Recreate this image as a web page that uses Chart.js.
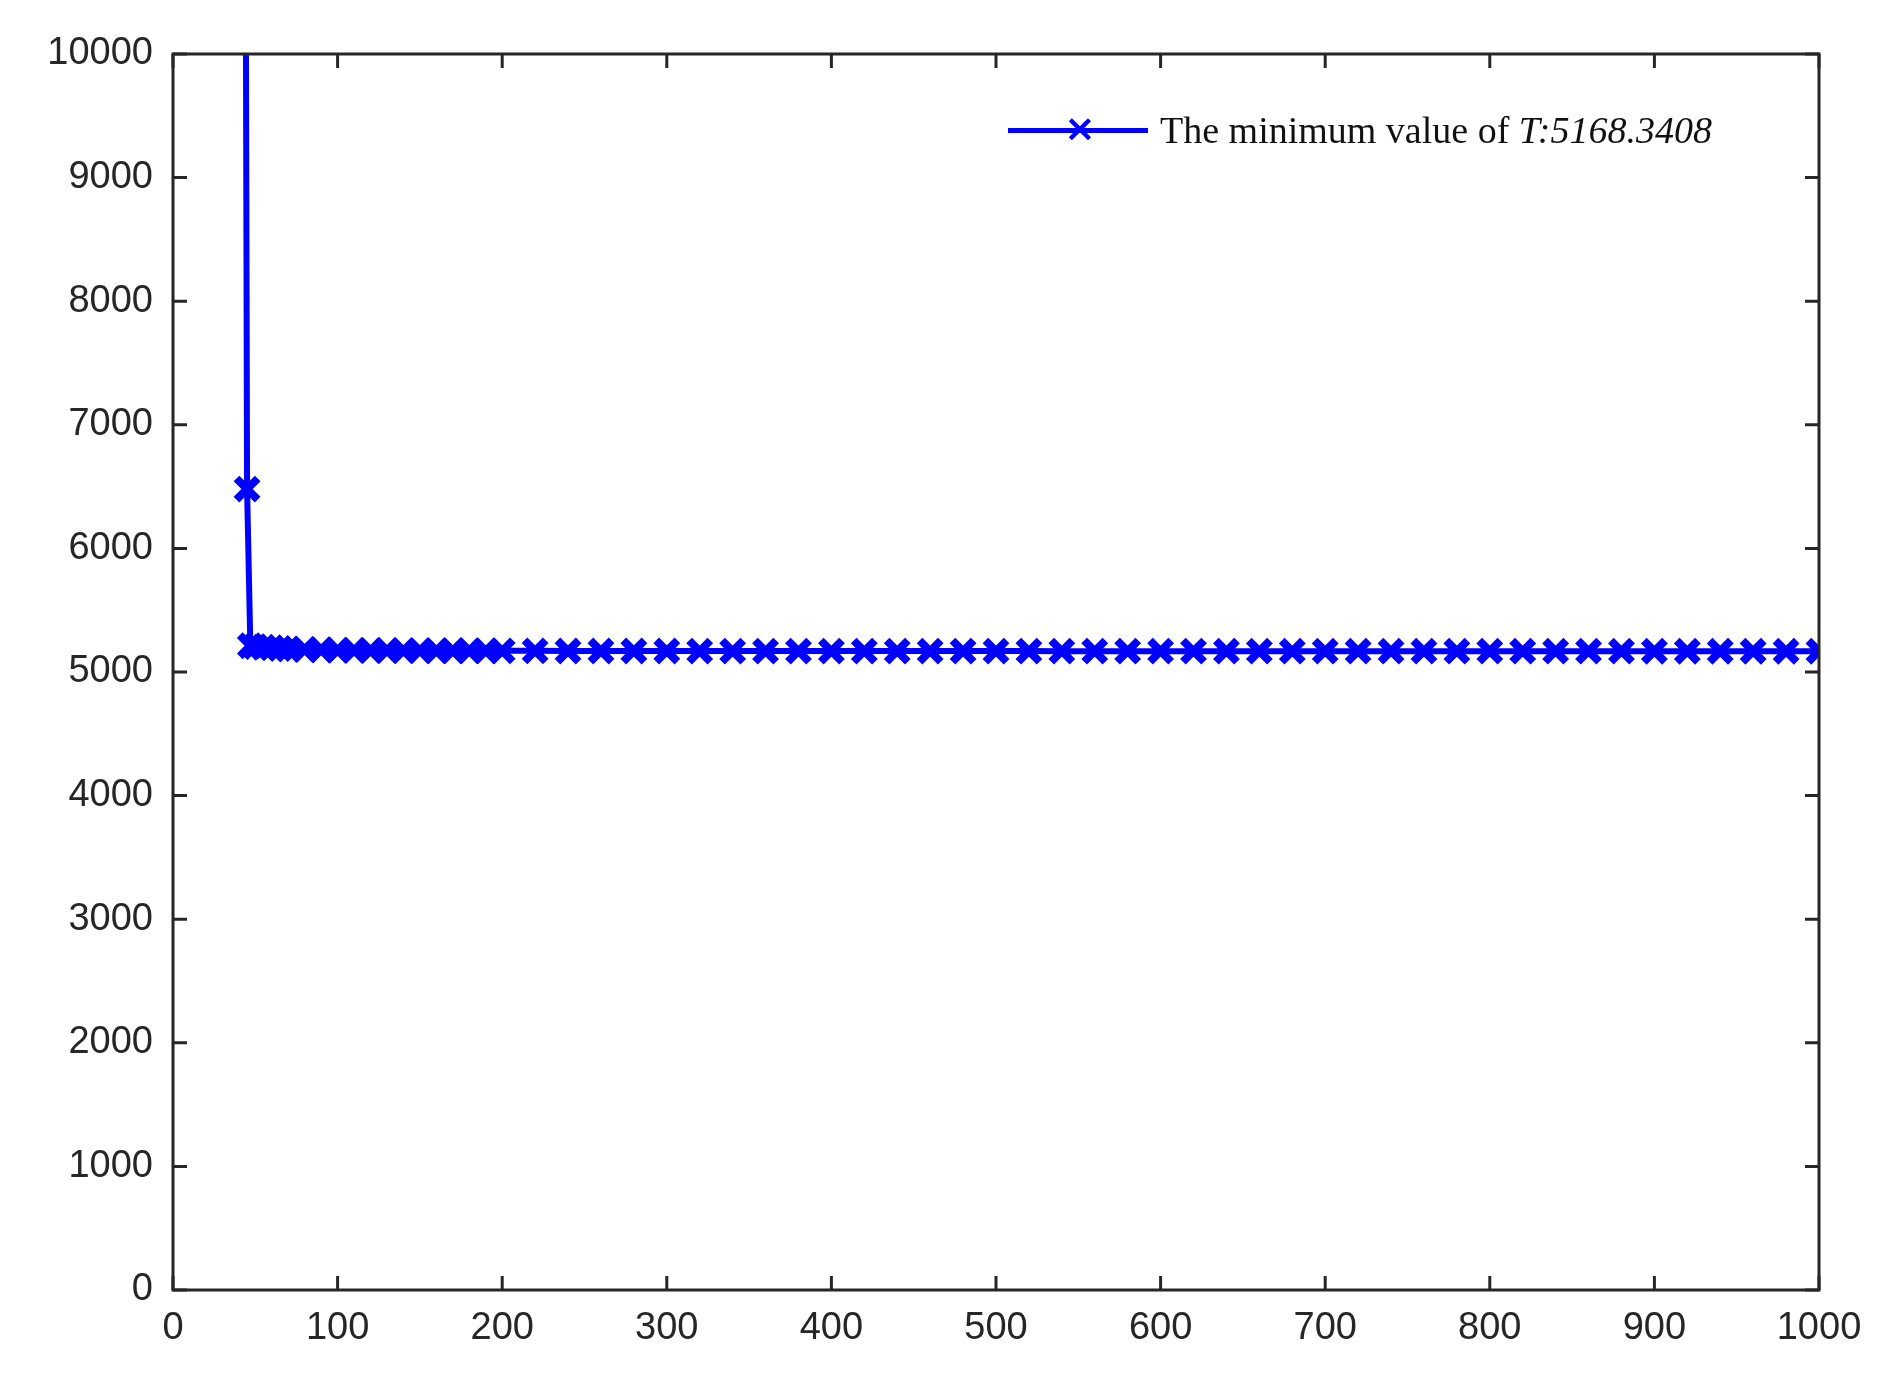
<!DOCTYPE html>
<html>
<head>
<meta charset="utf-8">
<script src="https://cdn.jsdelivr.net/npm/chart.js@4.4.0/dist/chart.umd.min.js"></script>
<style>
  html, body { margin: 0; padding: 0; background: #fff; }
  #wrap { position: relative; width: 1877px; height: 1381px; }
  #legend {
    position: absolute; left: 1008px; top: 108px;
    font-family: "Liberation Serif", serif; font-size: 38px; color: #111;
    display: flex; align-items: center; white-space: nowrap;
  }
  #legend .sym { position: relative; width: 140px; height: 40px; margin-right: 12px; }
  #legend .sym .ln { position: absolute; left: 0; right: 0; top: 18px; height: 5px; background: #0000ff; }
  #legend .sym .mk { position: absolute; left: 56px; top: -4px; color: #0000ff; font-family: "DejaVu Sans"; font-size: 38px; font-weight: bold; }
</style>
</head>
<body>
<div id="wrap">
  <canvas id="c" width="1877" height="1381"></canvas>
  <div id="legend"><span class="sym"><span class="ln"></span><span class="mk">×</span></span>The minimum value of&nbsp;<i>T:5168.3408</i></div>
</div>
<script>
// iteration numbers and objective values
const iters = [44, 45, 47, 50, 55, 60, 65, 70, 80, 90, 100, 110, 120, 130, 140, 150, 160, 170, 180, 190,
  200, 220, 240, 260, 280, 300, 320, 340, 360, 380, 400, 420, 440, 460, 480, 500, 520, 540, 560, 580,
  600, 620, 640, 660, 680, 700, 720, 740, 760, 780, 800, 820, 840, 860, 880, 900, 920, 940, 960, 980, 1000];
const values = [11800, 6480, 5212, 5205, 5200, 5196, 5190, 5186, 5182, 5180, 5176, 5175, 5174, 5174, 5173, 5173, 5172, 5172, 5172, 5171,
  5171, 5171, 5170, 5170, 5170, 5170, 5169, 5169, 5169, 5169, 5169, 5169, 5169, 5169, 5169, 5169, 5169, 5168.8, 5168.8, 5168.8,
  5168.7, 5168.7, 5168.6, 5168.6, 5168.6, 5168.5, 5168.5, 5168.5, 5168.5, 5168.4, 5168.4, 5168.4, 5168.4, 5168.4, 5168.4, 5168.34, 5168.34, 5168.34, 5168.34, 5168.34, 5168.34];
const xTicks = [0, 100, 200, 300, 400, 500, 600, 700, 800, 900, 1000];
const yTicks = [0, 1000, 2000, 3000, 4000, 5000, 6000, 7000, 8000, 9000, 10000];

const points = iters.map((x, i) => ({ x, y: values[i] }));

// box frame with inward ticks, like a MATLAB axes
const framePlugin = {
  id: "frame",
  afterDraw(chart) {
    const { ctx, chartArea: a, scales } = chart;
    ctx.save();
    ctx.strokeStyle = "#262626";
    ctx.lineWidth = 3;
    ctx.strokeRect(a.left, a.top, a.right - a.left, a.bottom - a.top);
    const len = 14;
    ctx.beginPath();
    xTicks.forEach(v => {
      const px = scales.x.getPixelForValue(v);
      ctx.moveTo(px, a.bottom); ctx.lineTo(px, a.bottom - len);
      ctx.moveTo(px, a.top); ctx.lineTo(px, a.top + len);
    });
    yTicks.forEach(v => {
      const py = scales.y.getPixelForValue(v);
      ctx.moveTo(a.left, py); ctx.lineTo(a.left + len, py);
      ctx.moveTo(a.right, py); ctx.lineTo(a.right - len, py);
    });
    ctx.stroke();
    ctx.restore();
  }
};

new Chart(document.getElementById("c"), {
  type: "line",
  data: {
    datasets: [{
      label: "The minimum value of T:5168.3408",
      data: points,
      borderColor: "#0000ff",
      backgroundColor: "#0000ff",
      borderWidth: 6,
      pointStyle: "crossRot",
      pointRadius: 15,
      pointBorderWidth: 8,
      pointBorderColor: "#0000ff",
      tension: 0,
      clip: 0
    }]
  },
  options: {
    responsive: false,
    animation: false,
    layout: { padding: { left: 0, top: 54, right: 58, bottom: 0 } },
    plugins: { legend: { display: false }, tooltip: { enabled: false } },
    scales: {
      x: {
        type: "linear", min: 0, max: 1000,
        afterBuildTicks: s => { s.ticks = xTicks.map(v => ({ value: v })); },
        afterFit: s => { s.height = 91; },
        grid: { display: false },
        border: { display: false },
        ticks: { color: "#262626", font: { family: "Liberation Sans", size: 38 }, padding: 8, maxRotation: 0, callback: v => String(v) }
      },
      y: {
        min: 0, max: 10000,
        afterBuildTicks: s => { s.ticks = yTicks.map(v => ({ value: v })); },
        afterFit: s => { s.width = 173; },
        grid: { display: false },
        border: { display: false },
        ticks: { color: "#262626", font: { family: "Liberation Sans", size: 38 }, padding: 12, callback: v => String(v) }
      }
    }
  },
  plugins: [framePlugin]
});
</script>
</body>
</html>
